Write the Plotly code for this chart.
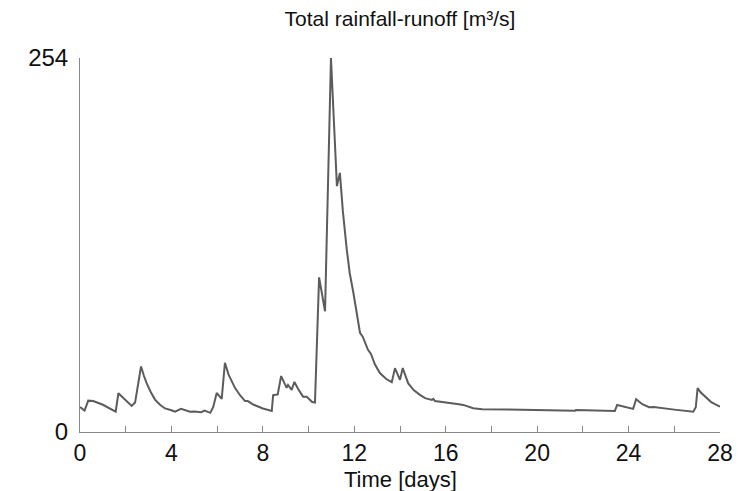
import plotly.graph_objects as go

days = [0.0, 0.2, 0.36, 0.58, 1.0, 1.3, 1.56, 1.68, 2.0, 2.26, 2.41, 2.67, 2.8, 2.92, 3.1, 3.28, 3.5, 3.72, 4.0, 4.16, 4.42, 4.6, 4.81, 5.0, 5.18, 5.3, 5.45, 5.7, 5.83, 5.98, 6.2, 6.34, 6.5, 6.64, 6.78, 7.0, 7.22, 7.34, 7.6, 8.0, 8.39, 8.45, 8.65, 8.8, 9.04, 9.1, 9.26, 9.38, 9.55, 9.76, 9.92, 10.16, 10.28, 10.46, 10.72, 10.98, 11.24, 11.37, 11.5, 11.67, 11.8, 11.96, 12.1, 12.25, 12.37, 12.6, 12.73, 12.9, 13.12, 13.4, 13.64, 13.78, 14.0, 14.12, 14.36, 14.6, 14.87, 15.1, 15.39, 15.46, 15.53, 16.0, 16.5, 16.77, 17.2, 17.6, 19.0, 21.66, 21.7, 23.4, 23.5, 24.2, 24.33, 24.6, 24.9, 25.1, 26.0, 26.83, 26.94, 27.02, 27.15, 27.4, 27.6, 27.8, 28.0]
runoff = [17, 14.5, 21.3, 21, 18.5, 16, 13.8, 26.3, 21.5, 17.7, 20, 44.5, 38, 33, 27, 22, 18.5, 16, 14.8, 13.8, 15.7, 14.8, 13.8, 14, 13.8, 13.5, 14.5, 13, 17, 26.5, 22.5, 47, 39, 34, 30, 25, 21, 21, 18.5, 16, 14.3, 25, 25.5, 38, 30, 32, 28.6, 34, 29, 24, 24, 20.4, 20, 105, 82, 254, 167, 176, 150, 124, 108, 94.6, 80, 67.4, 64.7, 55.8, 53, 46, 40, 36, 33.8, 43.4, 35.4, 43.4, 33, 28.5, 25.2, 23, 21.8, 22.5, 21, 19.8, 19, 18.4, 16.1, 15.5, 15.0, 14.5, 15, 14.3, 18.4, 15.7, 22.3, 18.9, 16.8, 17, 15.2, 13.8, 16.8, 29.8, 27, 23, 20.5, 18.8, 17.2]

font_family = "Liberation Sans, Arial, sans-serif"

fig = go.Figure()
fig.add_trace(go.Scatter(x=days, y=runoff, mode="lines",
                         line=dict(color="#5c5c5c", width=2), hoverinfo="skip"))

fig.update_layout(
    width=750, height=491,
    margin=dict(l=80, r=30, t=58, b=59, autoexpand=False),
    paper_bgcolor="white", plot_bgcolor="white",
    showlegend=False,
    font=dict(family=font_family, color="#111111"),
    title=dict(text="Total rainfall-runoff [m³/s]", x=0.5333, xanchor="center",
               y=0.962, yanchor="middle", font=dict(size=21, family=font_family)),
    annotations=[dict(text="Time [days]", xref="paper", yref="paper", x=0.5, y=-0.128,
                      xanchor="center", yanchor="middle", showarrow=False,
                      font=dict(size=22, family=font_family, color="#111111"))],
)
fig.update_xaxes(
    range=[0, 28], tickvals=[0, 4, 8, 12, 16, 20, 24, 28],
    ticks="inside", ticklen=6, tickcolor="#888888", tickwidth=1,
    minor=dict(tickvals=[2, 6, 10, 14, 18, 22, 26], ticks="inside", ticklen=6,
               tickcolor="#888888", tickwidth=1),
    showline=True, linecolor="#888888", linewidth=1, showgrid=False, zeroline=False,
    automargin=False,
    tickfont=dict(size=23),
)
fig.update_yaxes(
    range=[0, 254], tickvals=[0, 254], ticktext=["0", "254"],
    ticks="inside", ticklen=6, tickcolor="#888888", tickwidth=1,
    showline=True, linecolor="#888888", linewidth=1, showgrid=False, zeroline=False,
    automargin=False,
    tickfont=dict(size=24), ticklabelstandoff=6,
)

fig.write_html("out.html")
